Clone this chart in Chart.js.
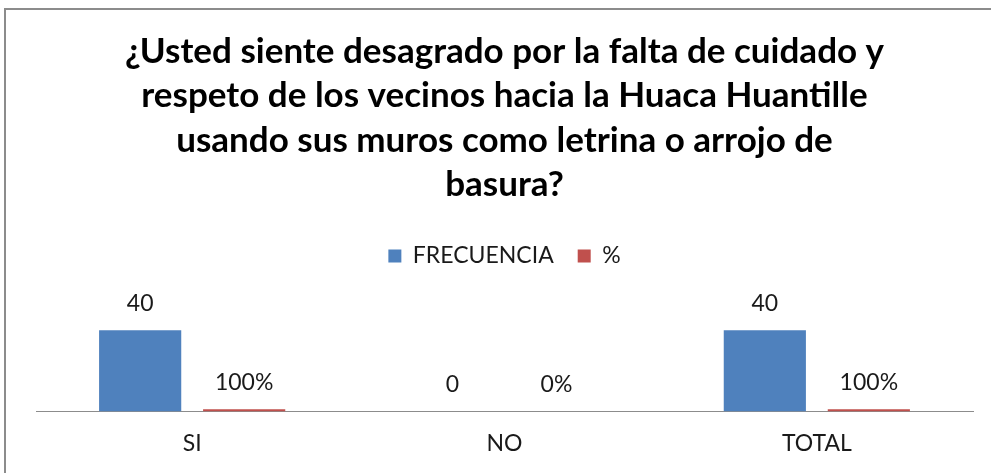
<!DOCTYPE html>
<html>
<head>
<meta charset="utf-8">
<script src="https://cdn.jsdelivr.net/npm/chart.js@4/dist/chart.umd.min.js"></script>
<style>
html,body{margin:0;padding:0;background:#fff;}
#wrap{position:absolute;left:0;top:0;width:991px;height:473px;}
#frame{position:absolute;left:4px;top:8px;width:987px;height:465px;border-left:2px solid #8c8c8c;border-top:2px solid #8c8c8c;box-sizing:border-box;}
canvas{position:absolute;left:0;top:0;}
</style>
</head>
<body>
<div id="wrap">
<div id="frame"></div>
<canvas id="c" width="991" height="473"></canvas>
</div>
<script>
const titleLines = [
  "¿Usted siente desagrado por la falta de cuidado y",
  "respeto de los vecinos hacia la Huaca Huantille",
  "usando sus muros como letrina o arrojo de",
  "basura?"
];
const categories = ["SI", "NO", "TOTAL"];
const frecuencia = [40, 0, 40];
const porcentaje = [1, 0, 1];
const seriesNames = ["FRECUENCIA", "%"];

const FONT = "Lato, 'Open Sans', sans-serif";

const valueLabels = {
  id: 'valueLabels',
  afterDatasetsDraw(chart) {
    const ctx = chart.ctx;
    ctx.save();
    ctx.font = "23px " + FONT;
    ctx.fillStyle = "#1a1a1a";
    ctx.textAlign = "center";
    ctx.textBaseline = "alphabetic";
    chart.data.datasets.forEach((ds, di) => {
      const meta = chart.getDatasetMeta(di);
      meta.data.forEach((bar, i) => {
        const v = ds.data[i];
        const txt = di === 1 ? Math.round(v * 100) + "%" : String(v);
        ctx.fillText(txt, bar.x, bar.y - 19);
      });
    });
    ctx.restore();
  }
};

new Chart(document.getElementById('c'), {
  type: 'bar',
  data: {
    labels: categories,
    datasets: [
      { label: seriesNames[0], data: frecuencia, backgroundColor: '#4F81BD', categoryPercentage: 0.666, barPercentage: 0.79 },
      { label: seriesNames[1], data: porcentaje, backgroundColor: '#C0504D', categoryPercentage: 0.666, barPercentage: 0.79 }
    ]
  },
  options: {
    responsive: false,
    animation: false,
    devicePixelRatio: 1,
    layout: { padding: { left: 36, right: 18, top: 30, bottom: -2 } },
    plugins: {
      tooltip: { enabled: false },
      title: {
        display: true,
        text: titleLines,
        color: '#000',
        font: { family: FONT, size: 35, weight: 'bold', lineHeight: 1.26 },
        padding: { top: 0, bottom: 14 }
      },
      legend: {
        display: true,
        position: 'top',
        labels: {
          color: '#1a1a1a',
          font: { family: FONT, size: 23 },
          boxWidth: 13, boxHeight: 13,
          padding: 24
        }
      }
    },
    scales: {
      x: {
        grid: { display: false, drawTicks: false },
        border: { display: true, color: '#8c8c8c', width: 1 },
        ticks: { color: '#1a1a1a', font: { family: FONT, size: 23 }, padding: 18 }
      },
      y: {
        display: false,
        min: 0,
        max: 66
      }
    }
  },
  plugins: [valueLabels]
});
</script>
</body>
</html>
